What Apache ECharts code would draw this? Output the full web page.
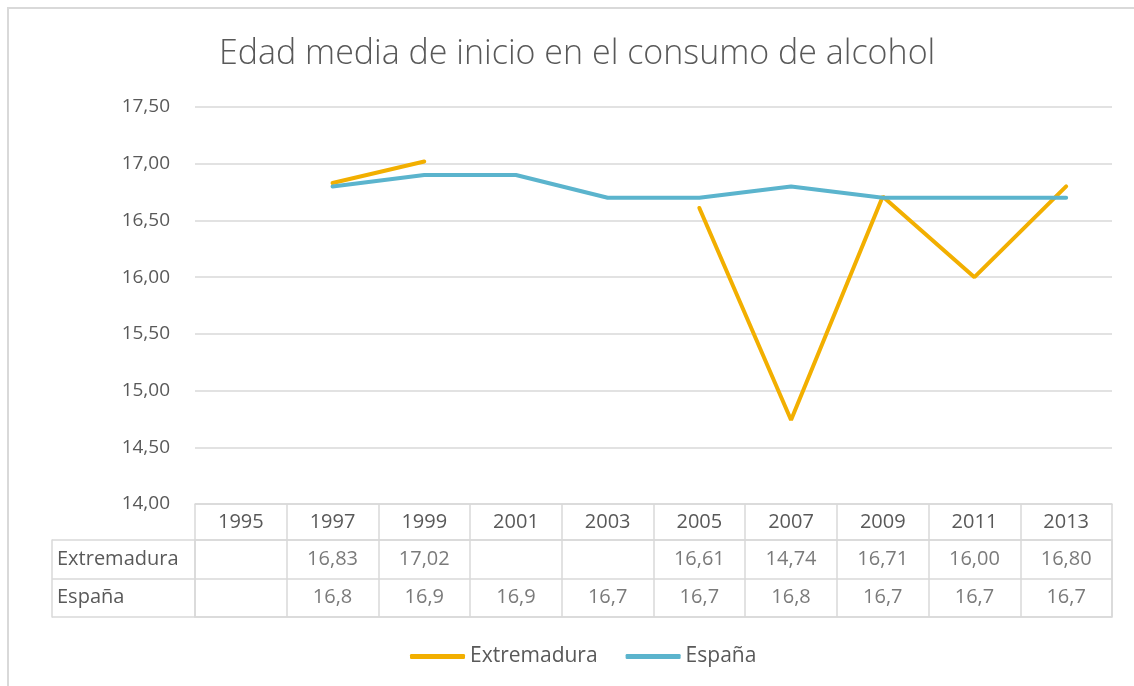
<!DOCTYPE html>
<html>
<head>
<meta charset="utf-8">
<script src="https://cdn.jsdelivr.net/npm/echarts@6/dist/echarts.min.js"></script>
<style>
  html, body { margin: 0; padding: 0; background: #fff; overflow: hidden; }
  #frame { position: absolute; left: 7px; top: 7px; width: 1140px; height: 700px; border: 2px solid #d9d9d9; box-sizing: border-box; }
  #chart { position: absolute; left: 0; top: 0; width: 1134px; height: 686px; }
</style>
</head>
<body>
<div id="frame"></div>
<div id="chart"></div>
<script>
const years = ['1995', '1997', '1999', '2001', '2003', '2005', '2007', '2009', '2011', '2013'];
const extremadura = [null, 16.83, 17.02, null, null, 16.61, 14.74, 16.71, 16.00, 16.80];
const espana = [null, 16.8, 16.9, 16.9, 16.7, 16.7, 16.8, 16.7, 16.7, 16.7];
const rowNames = ['Extremadura', 'España'];

const textColor = '#595959';
const lineGray = '#d9d9d9';
const fontFamily = '"Open Sans", "Noto Sans", sans-serif';

// cells of the data table under the axis
function tableCells(values, row, decimals) {
  const cells = [];
  values.forEach((v, i) => {
    if (v === null) return;
    cells.push([i, row, decimals ? v.toFixed(decimals) : String(v)]);
  });
  return cells;
}

const chartDom = document.getElementById('chart');
const myChart = echarts.init(chartDom);
const option = {
  backgroundColor: 'transparent',
  textStyle: { fontFamily: fontFamily, color: textColor },
  title: {
    text: 'Edad media de inicio en el consumo de alcohol',
    left: 214,
    top: 32,
    textStyle: { color: textColor, fontSize: 34, fontWeight: 300, fontFamily: fontFamily }
  },
  legend: {
    data: ['Extremadura', 'España'],
    top: 641,
    left: 405,
    icon: 'roundRect',
    itemWidth: 55,
    itemHeight: 5,
    itemGap: 28,
    textStyle: { color: textColor, fontSize: 21 }
  },
  grid: [
    { left: 195, right: 22, top: 107, height: 397 },
    { left: 195, right: 22, top: 540, height: 77, show: true, borderColor: lineGray, borderWidth: 1.5 }
  ],
  xAxis: [
    {
      type: 'category',
      gridIndex: 0,
      data: years,
      boundaryGap: true,
      axisLine: { lineStyle: { color: lineGray, width: 1.5 } },
      axisTick: { show: true, interval: 0, length: 36, lineStyle: { color: lineGray, width: 1.5 } },
      axisLabel: { interval: 0, margin: 8, fontSize: 20, color: textColor }
    },
    {
      type: 'category',
      gridIndex: 1,
      data: years,
      boundaryGap: true,
      axisLine: { show: false },
      axisTick: { show: false },
      axisLabel: { show: false },
      splitLine: { show: true, interval: 0, lineStyle: { color: lineGray, width: 1.5 } }
    }
  ],
  yAxis: [
    {
      type: 'value',
      gridIndex: 0,
      min: 14,
      max: 17.5,
      interval: 0.5,
      axisLine: { show: false },
      axisTick: { show: false },
      axisLabel: {
        margin: 25,
        fontSize: 19,
        color: textColor,
        formatter: v => v.toFixed(2).replace('.', ',')
      },
      splitLine: { lineStyle: { color: lineGray, width: 1.5 } }
    },
    {
      type: 'category',
      gridIndex: 1,
      data: rowNames,
      inverse: true,
      boundaryGap: true,
      axisLine: { show: false },
      axisTick: { show: true, interval: 0, length: 143, lineStyle: { color: lineGray, width: 1.5 } },
      axisLabel: { align: 'left', margin: 138, fontSize: 20, color: textColor },
      splitLine: { show: true, interval: 0, lineStyle: { color: lineGray, width: 1.5 } }
    },
    {
      type: 'category',
      gridIndex: 1,
      data: rowNames,
      inverse: true,
      position: 'left',
      offset: 143,
      axisLine: { show: true, lineStyle: { color: lineGray, width: 1.5 } },
      axisTick: { show: false },
      axisLabel: { show: false }
    }
  ],
  series: [
    {
      name: 'Extremadura',
      type: 'line',
      xAxisIndex: 0,
      yAxisIndex: 0,
      data: extremadura,
      showSymbol: false,
      connectNulls: false,
      lineStyle: { color: '#F2AF00', width: 4, cap: 'round' },
      itemStyle: { color: '#F2AF00' }
    },
    {
      name: 'España',
      type: 'line',
      xAxisIndex: 0,
      yAxisIndex: 0,
      data: espana,
      showSymbol: false,
      lineStyle: { color: '#5BB4CD', width: 4, cap: 'round' },
      itemStyle: { color: '#5BB4CD' }
    },
    {
      name: 'tabla',
      type: 'scatter',
      xAxisIndex: 1,
      yAxisIndex: 1,
      silent: true,
      symbolSize: 1,
      itemStyle: { color: 'rgba(0,0,0,0)' },
      data: tableCells(extremadura, 0, 2).concat(tableCells(espana, 1, 0)),
      label: {
        show: true,
        position: 'inside',
        fontSize: 20,
        color: textColor,
        formatter: p => p.value[2].replace('.', ',')
      }
    }
  ]
};

option && myChart.setOption(option);
</script>
</body>
</html>
